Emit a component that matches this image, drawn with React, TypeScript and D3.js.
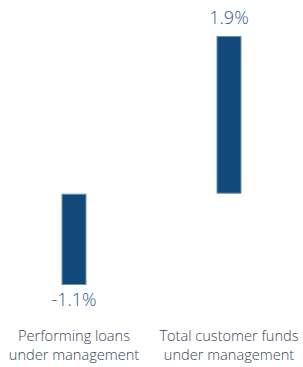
import React from 'react';
import * as d3 from 'd3';

const categories = ['Performing loans|under management', 'Total customer funds|under management'];
const values = [-1.1, 1.9];
const valueLabels = ['-1.1%', '1.9%'];

const W = 303;
const H = 367;

export default function App() {
  const x = d3.scaleBand<string>()
    .domain(categories)
    .range([0, W])
    .paddingInner(0.839)
    .paddingOuter(0.397);

  const y = d3.scaleLinear()
    .domain([-1.1, 1.9])
    .range([285, 36]);

  const font = '"Open Sans", sans-serif';

  return (
    <svg width={W} height={H} style={{ position: 'absolute', left: 0, top: 0, background: '#fff' }}>
      {categories.map((c, i) => {
        const v = values[i];
        const bx = x(c) as number;
        const cx = bx + x.bandwidth() / 2;
        const top = y(Math.max(0, v));
        const bottom = y(Math.min(0, v));
        const labelY = v >= 0 ? top - 12 : bottom + 21;
        return (
          <g key={c}>
            <rect
              x={bx + 0.5}
              y={top + 0.5}
              width={x.bandwidth() - 1}
              height={bottom - top - 1}
              fill="#114a7a"
              stroke="#6f8fb0"
              strokeWidth={1}
            />
            <text
              x={cx}
              y={labelY}
              textAnchor="middle"
              fontFamily={font}
              fontWeight={300}
              fontSize={18}
              fill="#2c5b8c"
            >
              {valueLabels[i]}
            </text>
            {c.split('|').map((line, j) => (
              <text
                key={j}
                x={cx}
                y={341 + j * 19}
                textAnchor="middle"
                fontFamily={font}
                fontWeight={300}
                fontSize={14.6}
                fill="#37465a"
              >
                {line}
              </text>
            ))}
          </g>
        );
      })}
    </svg>
  );
}
